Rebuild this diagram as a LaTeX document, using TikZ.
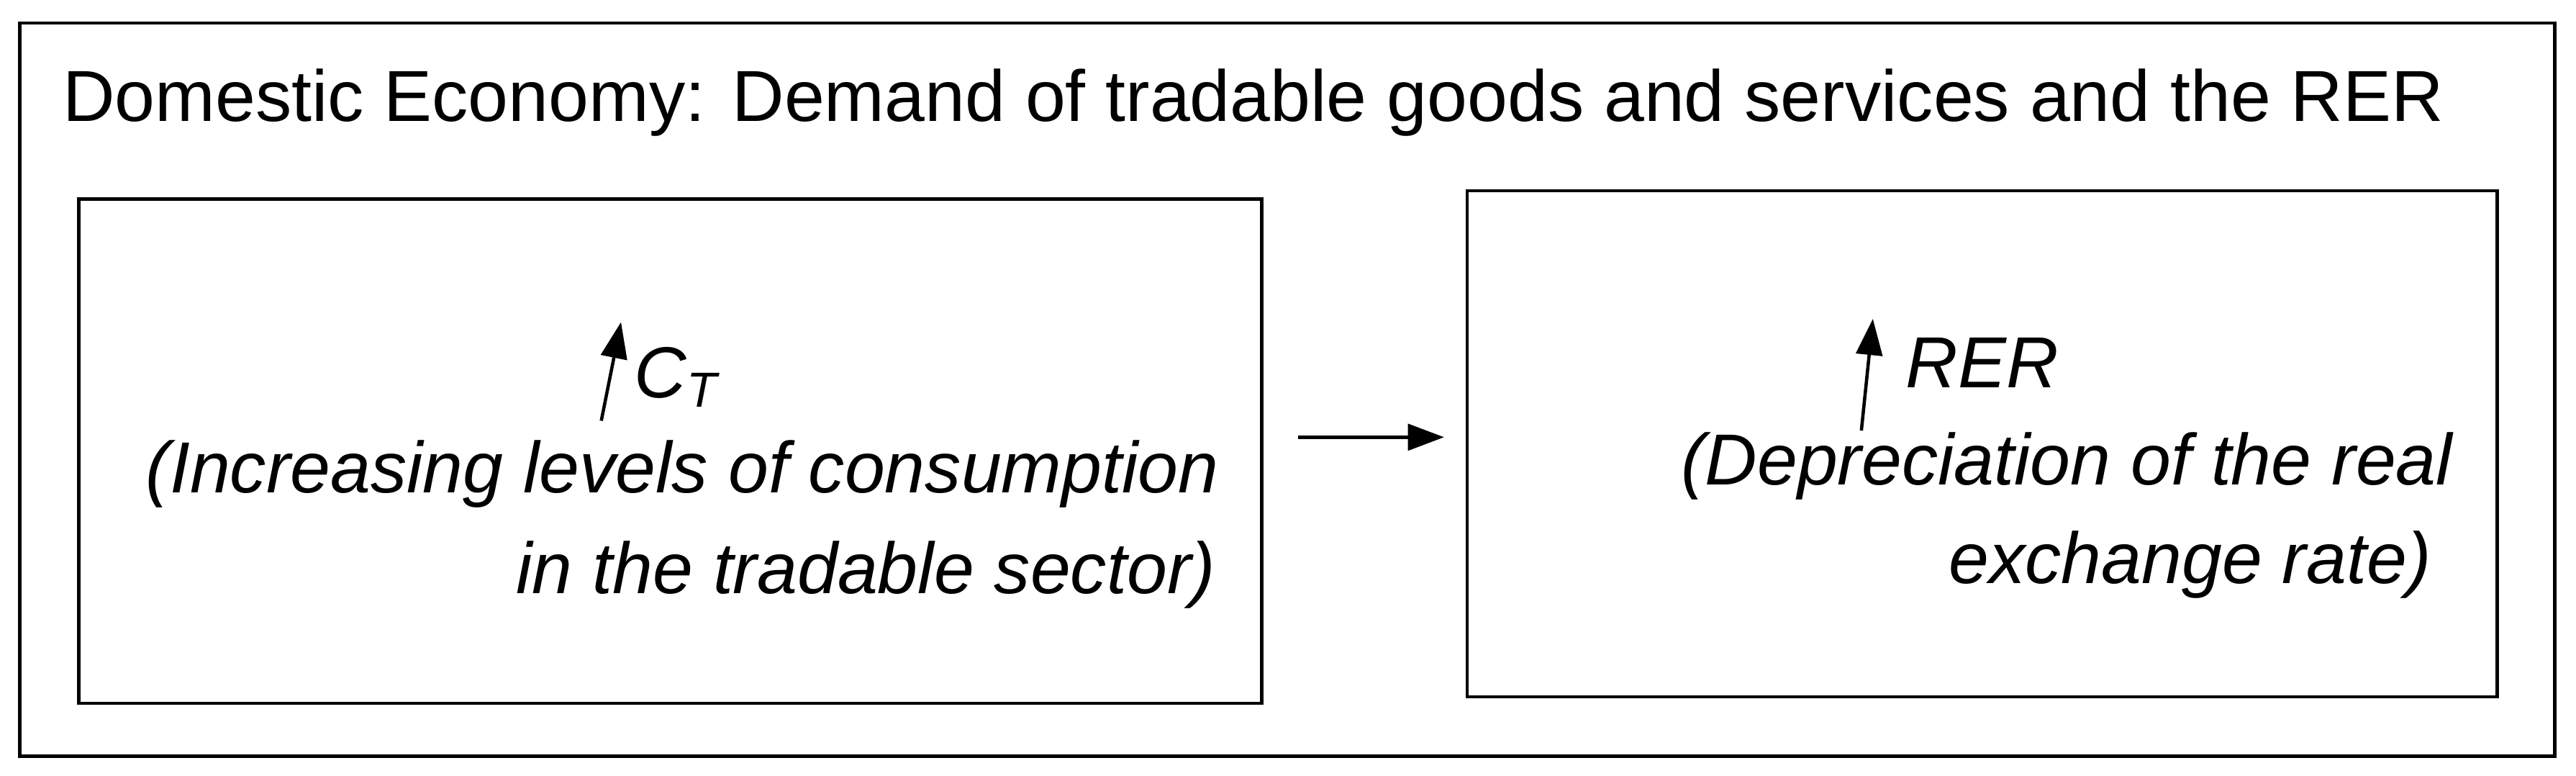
\documentclass[tikz,border=0pt]{standalone}
\usepackage{fontspec}
\setmainfont{Liberation Sans}
\usetikzlibrary{arrows.meta}
\begin{document}
\begin{tikzpicture}[x=1pt,y=-1pt,
  box/.style={draw,line width=2pt},
  txt/.style={font=\fontsize{44}{50}\selectfont\itshape,inner sep=0pt},
  arr/.style={line width=2pt,-{Triangle[length=22pt,width=16pt]}}]
\useasboundingbox (0,0) rectangle (1568,472);
\draw[box] (12,14) rectangle (1555,460);
\node[anchor=base west,inner sep=0pt,font=\fontsize{44}{50}\selectfont] (title) at (38,74) {Domestic Economy: Demand of tradable goods and services and the RER};
\draw[box] (48,121) rectangle (768,428);
\draw[box] (893,116) rectangle (1520,424);
\coordinate (a0) at (366,256); \coordinate (a1) at (378,196);
\draw[arr] (a0) -- (a1);
\node[txt,anchor=base west] (ct) at (386,242) {C\raisebox{-0.25ex}{\fontsize{30}{34}\selectfont T}};
\node[txt,anchor=base east] (l1) at (742,300) {(Increasing levels of consumption};
\node[txt,anchor=base east] (l2) at (740,361) {in the tradable sector)};
\coordinate (b0) at (1133,262); \coordinate (b1) at (1140,194);
\draw[arr] (b0) -- (b1);
\node[txt,anchor=base west] (rer) at (1160,236) {RER};
\node[txt,anchor=base east] (r1) at (1493,295) {(Depreciation of the real};
\node[txt,anchor=base east] (r2) at (1480,355) {exchange rate)};
\coordinate (c0) at (790,266); \coordinate (c1) at (879,266);
\draw[arr] (c0) -- (c1);
\end{tikzpicture}
\end{document}
